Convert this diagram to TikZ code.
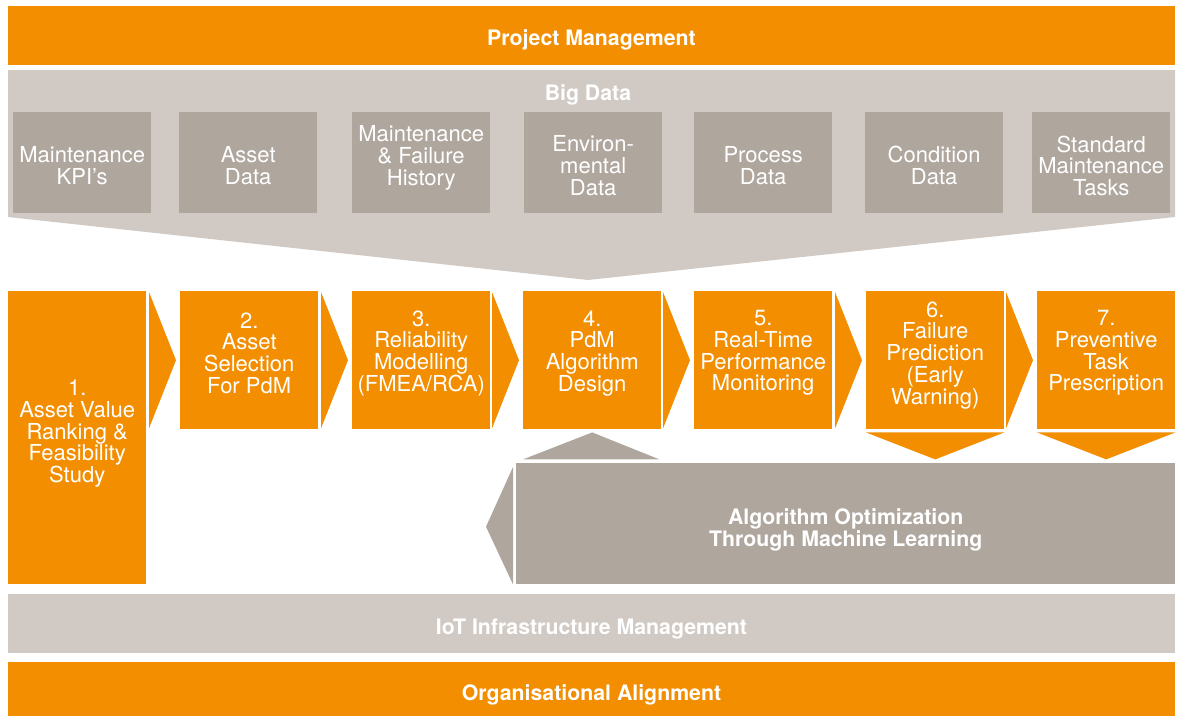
\documentclass[tikz,border=0pt]{standalone}
\usepackage{fontspec}
\setmainfont{TeX Gyre Heros}

\definecolor{pdmorange}{HTML}{F28E00}
\definecolor{pdmlight}{HTML}{D1CAC4}
\definecolor{pdmdark}{HTML}{AFA69E}

\begin{document}
\begin{tikzpicture}[x=1pt, y=-1pt,
  databox/.style={fill=pdmdark, inner sep=0pt, anchor=north west, minimum width=138pt, minimum height=101pt},
  stepbox/.style={fill=pdmorange, inner sep=0pt, anchor=north west, minimum width=138pt, minimum height=138pt},
  boxtext/.style={text=white, align=center, inner sep=0pt, font=\fontsize{22}{21.7}\selectfont},
  bartext/.style={text=white, align=center, inner sep=0pt, font=\bfseries\fontsize{21.3}{22}\selectfont}]

\useasboundingbox (0,0) rectangle (1181,716);

% bars
\fill[pdmorange] (8,6) rectangle (1175,65);
\fill[pdmlight] (8,70) -- (1175,70) -- (1175,217) -- (588,280) -- (8,217) -- cycle;
\fill[pdmlight] (8,594) rectangle (1175,653);
\fill[pdmorange] (8,662) rectangle (1175,716);

\node[bartext] (pm) at (591.5,40) {Project Management};
\node[bartext] (bd) at (588,95) {Big Data};
\node[bartext] (iot) at (591.5,629) {IoT Infrastructure Management};
\node[bartext] (oa) at (591.5,695) {Organisational Alignment};

% data sources
\foreach \x/\dy/\txt [count=\i] in {13/-3/{Maintenance\\KPI's}, 179/-3/{Asset\\Data},
    352/5/{Maintenance\\\& Failure\\History}, 524/-3/{Environ-\\mental\\Data},
    694/-3/{Process\\Data}, 865/-3/{Condition\\Data}, 1032/-3/{Standard\\Maintenance\\Tasks}}{
  \node[databox] (d\i) at (\x,112) {};
  \node[boxtext] (dt\i) at ([yshift=\dy pt]d\i.center) {\txt};
}

% steps
\node[stepbox, minimum height=293pt] (s1) at (8,291) {};
\node[boxtext] (st1) at ([yshift=4pt]s1.center) {1.\\Asset Value\\Ranking \&\\Feasibility\\Study};
\foreach \x/\dy/\txt [count=\i from 2] in {180/7/{2.\\Asset\\Selection\\For PdM},
    352/7/{3.\\Reliability\\Modelling\\(FMEA/RCA)}, 523/7/{4.\\PdM\\Algorithm\\Design},
    694/7/{5.\\Real-Time\\Performance\\Monitoring}, 866/5/{6.\\Failure\\Prediction\\(Early\\Warning)},
    1037/7/{7.\\Preventive\\Task\\Prescription}}{
  \node[stepbox] (s\i) at (\x,291) {};
  \node[boxtext] (st\i) at ([yshift=\dy pt]s\i.center) {\txt};
}

% chevrons between steps
\foreach \a/\b in {1/2,2/3,3/4,4/5,5/6,6/7}
  \fill[pdmorange] ([xshift=-31pt,yshift=-1pt]s\b.north west) -- ([xshift=-4pt]s\b.west)
    -- ([xshift=-31pt,yshift=1pt]s\b.south west) -- cycle;

% down arrows
\foreach \i in {6,7}
  \fill[pdmorange] ([yshift=-3pt]s\i.south west) -- ([yshift=-3pt]s\i.south east)
    -- ([yshift=-30pt]s\i.south) -- cycle;

% machine learning loop
\node[fill=pdmdark, inner sep=0pt, anchor=north west, minimum width=659pt, minimum height=121pt] (ml) at (516,463) {};
\node[bartext] (mlt) at ([yshift=-6pt]ml.center) {Algorithm Optimization\\Through Machine Learning};
\fill[pdmdark] ([xshift=-3pt,yshift=-4pt]ml.north west) -- ([xshift=-30pt,yshift=-3pt]ml.west)
  -- ([xshift=-3pt]ml.south west) -- cycle;
\fill[pdmdark] ([yshift=-30pt]s4.south west) -- ([xshift=-2pt,yshift=-30pt]s4.south east)
  -- ([yshift=-3pt]s4.south) -- cycle;

\end{tikzpicture}
\end{document}
